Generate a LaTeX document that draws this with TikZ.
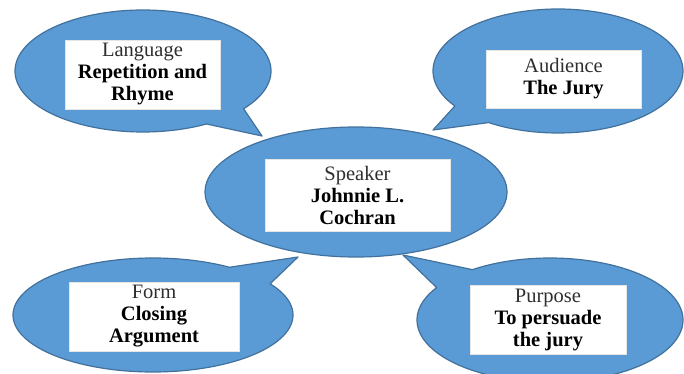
\documentclass[tikz,border=0pt]{standalone}
\usepackage{fontspec}
\setmainfont{Liberation Serif}
\definecolor{bubblefill}{HTML}{5B9BD5}
\definecolor{bubbleline}{HTML}{41719C}
\definecolor{labelgray}{HTML}{2E2E2E}
\begin{document}
\begin{tikzpicture}[x=1pt,y=-1pt,
  bubble/.style={fill=bubblefill,draw=bubbleline,line width=1.2pt,line join=round},
  labelbox/.style={fill=white,draw=black!10,line width=0.6pt,inner sep=0pt,align=center,
    font=\fontsize{20.5}{22}\selectfont}]
\useasboundingbox (0,0) rectangle (684,374);
\clip (0,0) rectangle (684,374);
% Language bubble (top left)
\draw[bubble] (262,136) -- plot[domain=60.3:398.2,samples=160] ({143+128*cos(\x)},{71+61*sin(\x)}) -- cycle;
% Audience bubble (top right)
\draw[bubble] (433,130) -- plot[domain=145.6:483.7,samples=160] ({558+125*cos(\x)},{71+62*sin(\x)}) -- cycle;
% Form bubble (bottom left)
\draw[bubble] (298,257) -- plot[domain=326.8:663.1,samples=160] ({153+140*cos(\x)},{315+57*sin(\x)}) -- cycle;
% Purpose bubble (bottom right)
\draw[bubble] (403,255) -- plot[domain=234.3:571.5,samples=160] ({550+133*cos(\x)},{320+62*sin(\x)}) -- cycle;
% Speaker ellipse (centre)
\draw[bubble] (356,192) ellipse [x radius=151, y radius=65];
% label boxes
\node[labelbox, minimum width=155pt, minimum height=69pt] (language) at (142.5,74.5)
  {{\color{labelgray}Language}\\\textbf{Repetition and}\\\textbf{Rhyme}};
\node[labelbox, minimum width=155pt, minimum height=58pt] (audience) at (563.5,79)
  {{\color{labelgray}Audience}\\\textbf{The Jury}};
\node[labelbox, minimum width=185pt, minimum height=72pt] (speaker) at (357.5,195)
  {{\color{labelgray}Speaker}\\\textbf{Johnnie L.}\\\textbf{Cochran}};
\node[labelbox, minimum width=170pt, minimum height=69pt] (form) at (154,316.5)
  {{\color{labelgray}Form}\\\textbf{Closing}\\\textbf{Argument}};
\node[labelbox, minimum width=156pt, minimum height=69pt] (purpose) at (548,319.5)
  {{\color{labelgray}Purpose}\\\textbf{To persuade}\\\textbf{the jury}};
\end{tikzpicture}
\end{document}
